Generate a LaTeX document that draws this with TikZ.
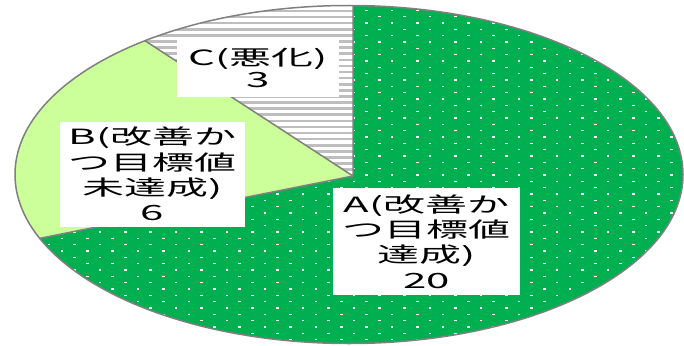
\documentclass[tikz,border=0pt]{standalone}
\usepackage{fontspec}
\newfontfamily\jp[FakeStretch=2]{Noto Sans CJK JP}
\definecolor{agreen}{HTML}{00B050}
\definecolor{bgreen}{HTML}{CCFF99}
\definecolor{stripegray}{HTML}{BEBEBE}
\definecolor{edgegray}{HTML}{808080}
\def\pieOutline{(349,174.5) ellipse [x radius=334, y radius=169]}
\begin{document}
\begin{tikzpicture}[x=1pt,y=-1pt,
  lbl/.style={fill=white, inner sep=0pt, align=center, text=black,
    font=\jp\fontsize{21}{25.3}\selectfont},
  edgeline/.style={draw=edgegray, line width=1.5pt, line join=round},
  dot/.style={fill=white}]
\useasboundingbox (0,0) rectangle (684,345);
\clip (0,0) rectangle (684,345);
\coordinate (O) at (353,176);
\coordinate (T) at (353,-30);
\coordinate (Cb) at (36.2,-30);
\coordinate (Bb) at (-20,250.2);
\coordinate (Corner) at (-20,-30);
% slice A (whole ellipse first)
\fill[agreen] \pieOutline;
\begin{scope}
  \clip \pieOutline;
  \foreach \i in {-15,...,12}{
    \foreach \j in {-12,...,16}{
      \fill[dot] ({379.3+25.4*\i-1.3},{143.3+12.66*\j-0.7}) rectangle ++(2.6,1.4);
      \fill[dot] ({392+25.4*\i-1.3},{149.63+12.66*\j-0.7}) rectangle ++(2.6,1.4);
    }
  }
  % slice B
  \fill[bgreen] (O) -- (Cb) -- (Corner) -- (Bb) -- cycle;
  % slice C
  \fill[white] (O) -- (T) -- (Cb) -- cycle;
  \begin{scope}
    \clip (O) -- (T) -- (Cb) -- cycle;
    \foreach \n in {0,...,30}{
      \fill[stripegray] (0,{3.6+6.1*\n}) rectangle (360,{6.2+6.1*\n});
    }
  \end{scope}
  \draw[edgeline] (T) -- (O) -- (Cb);
  \draw[edgeline] (O) -- (Bb);
\end{scope}
\draw[edgeline] \pieOutline;
% labels
\node[lbl, minimum width=162pt, minimum height=58pt] (C) at (258,68) {C(悪化)\\[-4pt]3};
\node[lbl, minimum width=185pt, minimum height=105pt] (B) at (152.5,174.2) {B(改善か\\つ目標値\\未達成)\\6};
\node[lbl, minimum width=187pt, minimum height=107pt] (A) at (426.5,241.5) {A(改善か\\つ目標値\\達成)\\20};
\end{tikzpicture}
\end{document}
